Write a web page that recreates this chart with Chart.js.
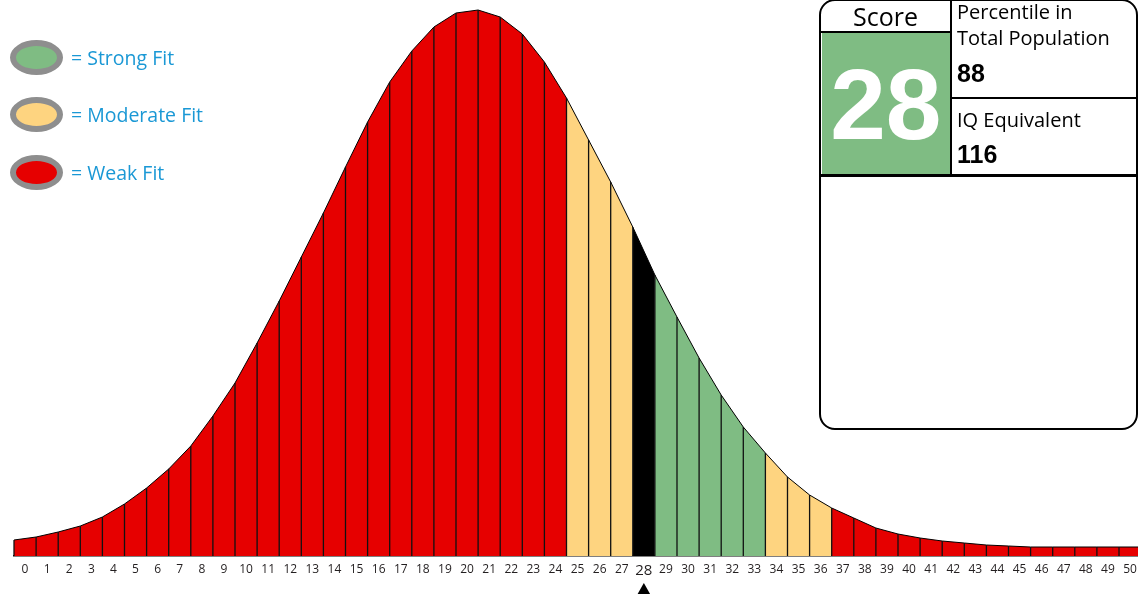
<!DOCTYPE html>
<html>
<head>
<meta charset="utf-8">
<script src="https://cdn.jsdelivr.net/npm/chart.js@4.4.1/dist/chart.umd.min.js"></script>
<style>
  body { margin: 0; background: #fff; }
  #wrap { position: relative; width: 1138px; height: 594px; overflow: hidden; font-family: 'Open Sans', sans-serif; }
  #chartBox { position: absolute; left: 0; top: 0; width: 1138px; height: 594px; }
  .abs { position: absolute; }
  .oval { position: absolute; left: 10px; width: 53px; height: 35px; box-sizing: border-box;
          border: 6px solid #8e8e8e; border-radius: 50%; }
  .fitText { position: absolute; left: 71px; font-size: 19.5px; line-height: 1; color: #1a98d5; white-space: nowrap; }
  .panel { position: absolute; left: 819px; top: -1px; width: 319px; height: 431px; box-sizing: border-box;
           border: 2.7px solid #000; border-radius: 16px; background: #fff; }
  .rule { position: absolute; background: #000; }
  .lbl { position: absolute; font-size: 20px; line-height: 1; color: #000; white-space: nowrap; }
  .num { position: absolute; font-family: 'Liberation Sans', Arial, sans-serif; font-weight: bold;
         font-size: 25px; line-height: 1; color: #000; }
</style>
</head>
<body>
<div id="wrap">
  <div id="chartBox"><canvas id="curve"></canvas></div>
  <div id="legend"></div>
  <div class="panel"></div>
  <div class="abs" id="scoreCell" style="left:822px; top:33.3px; width:127.7px; height:140.7px; background:#7fbc83;
       display:flex; align-items:center; justify-content:center; color:#fff;
       font-family:'Liberation Sans', Arial, sans-serif; font-weight:bold; font-size:100px; line-height:1;"></div>
  <div class="rule" style="left:820px; top:30.7px; width:131px; height:2.6px;"></div>
  <div class="rule" style="left:949.7px; top:0; width:2.6px; height:176px;"></div>
  <div class="rule" style="left:951px; top:96.7px; width:187px; height:2.6px;"></div>
  <div class="rule" style="left:820px; top:174px; width:318px; height:2.7px;"></div>
  <div class="lbl" style="left:820px; width:131px; text-align:center; top:3.8px; font-size:25px;">Score</div>
  <div class="lbl" style="left:957px; top:1.5px;">Percentile in</div>
  <div class="lbl" style="left:957px; top:28.2px;">Total Population</div>
  <div class="num" id="pctVal" style="left:957px; top:60.5px;"></div>
  <div class="lbl" style="left:957px; top:110.2px;">IQ Equivalent</div>
  <div class="num" id="iqVal" style="left:957px; top:141.5px;"></div>
</div>
<script>
// score categories along the bottom axis
const scores = [0, 1, 2, 3, 4, 5, 6, 7, 8, 9, 10, 11, 12, 13, 14, 15, 16, 17, 18, 19, 20,
  21, 22, 23, 24, 25, 26, 27, 28, 29, 30, 31, 32, 33, 34, 35, 36, 37, 38, 39, 40,
  41, 42, 43, 44, 45, 46, 47, 48, 49, 50];

// curve height at each bar edge (left edge of score 0 ... right edge of score 50)
const curveHeights = [16, 19, 24, 30, 39, 52, 68, 87, 110, 140, 173, 213, 255, 299, 343, 389,
  434, 474, 505, 529, 543, 546, 539, 522, 494, 458, 416, 374, 329, 281, 239, 198, 161, 129,
  103, 79, 61, 48, 38, 28, 22, 18, 15, 13, 11, 10, 9, 9, 9, 9, 9, 9];

// fit level of each score: W = weak, M = moderate, S = strong
const fitLevels = [
  'W', 'W', 'W', 'W', 'W', 'W', 'W', 'W', 'W', 'W', 'W', 'W', 'W', 'W', 'W', 'W', 'W', 'W', 'W', 'W',
  'W', 'W', 'W', 'W', 'W', 'M', 'M', 'M', 'M', 'S', 'S', 'S', 'S', 'S', 'M', 'M', 'M',
  'W', 'W', 'W', 'W', 'W', 'W', 'W', 'W', 'W', 'W', 'W', 'W', 'W', 'W'];

const legendNames = ['Strong Fit', 'Moderate Fit', 'Weak Fit'];
const legendKeys = ['S', 'M', 'W'];

const userScore = 28;
const percentile = 88;
const iqEquivalent = 116;

const fitColors = { S: '#7fbc83', M: '#fed480', W: '#e60000' };
const scoreColor = '#000000';

// legend + panel text
const legendTops = [57, 114, 172];
const legendEl = document.getElementById('legend');
legendNames.forEach((name, i) => {
  const oval = document.createElement('div');
  oval.className = 'oval';
  oval.style.top = (legendTops[i] - 17.5) + 'px';
  oval.style.background = fitColors[legendKeys[i]];
  legendEl.appendChild(oval);
  const txt = document.createElement('div');
  txt.className = 'fitText';
  txt.style.top = (legendTops[i] + 8 - 17.3) + 'px';
  txt.textContent = '= ' + name;
  legendEl.appendChild(txt);
});
document.getElementById('scoreCell').textContent = userScore;
document.getElementById('pctVal').textContent = percentile;
document.getElementById('iqVal').textContent = iqEquivalent;

// vertical lines between bars, from the curve down to the baseline
const barDividers = {
  id: 'barDividers',
  afterDatasetsDraw(chart) {
    const meta = chart.getDatasetMeta(0);
    const base = chart.scales.y.getPixelForValue(0);
    const ctx = chart.ctx;
    ctx.save();
    ctx.strokeStyle = '#111';
    ctx.lineWidth = 1.3;
    ctx.beginPath();
    meta.data.forEach(pt => {
      ctx.moveTo(pt.x, pt.y);
      ctx.lineTo(pt.x, base);
    });
    ctx.stroke();
    ctx.restore();
  }
};

// black triangle under the user's score label
const scoreMarker = {
  id: 'scoreMarker',
  afterDraw(chart) {
    const ctx = chart.ctx;
    const x = chart.scales.x.getPixelForValue(userScore);
    const top = chart.chartArea.bottom + 27;
    ctx.save();
    ctx.fillStyle = '#000';
    ctx.beginPath();
    ctx.moveTo(x, top);
    ctx.lineTo(x + 8.5, top + 15);
    ctx.lineTo(x - 8.5, top + 15);
    ctx.closePath();
    ctx.fill();
    ctx.restore();
  }
};

new Chart(document.getElementById('curve').getContext('2d'), {
  type: 'line',
  data: {
    datasets: [
      {
        data: curveHeights.map((h, k) => ({ x: k - 0.5, y: h })),
        borderColor: '#000',
        borderWidth: 1,
        pointRadius: 0,
        tension: 0,
        fill: 'origin',
        backgroundColor: fitColors.W,
        segment: {
          backgroundColor: ctx => ctx.p0DataIndex === userScore ? scoreColor : fitColors[fitLevels[ctx.p0DataIndex]]
        }
      }
    ]
  },
  options: {
    responsive: true,
    maintainAspectRatio: false,
    animation: false,
    layout: { autoPadding: false, padding: { left: 14, right: 0, top: 0, bottom: 0 } },
    scales: {
      x: {
        type: 'linear',
        min: -0.5,
        max: 50.36,   // last bar runs slightly past the right edge
        afterBuildTicks: axis => { axis.ticks = scores.map(v => ({ value: v })); },
        afterFit: axis => { axis.height = 38; axis.paddingLeft = 0; axis.paddingRight = 0; },
        grid: { display: false, drawTicks: false },
        border: { display: true, color: '#000', width: 1.6 },
        ticks: {
          autoSkip: false,
          maxRotation: 0,
          padding: 6,
          color: '#231f20',
          font: ctx => ({ family: 'Open Sans', size: ctx.tick && ctx.tick.value === userScore ? 15 : 12 }),
          callback: v => String(v)
        }
      },
      y: {
        display: false,
        min: 0,
        max: 556
      }
    },
    plugins: {
      legend: { display: false },
      tooltip: { enabled: false }
    }
  },
  plugins: [barDividers, scoreMarker]
});
</script>
</body>
</html>
